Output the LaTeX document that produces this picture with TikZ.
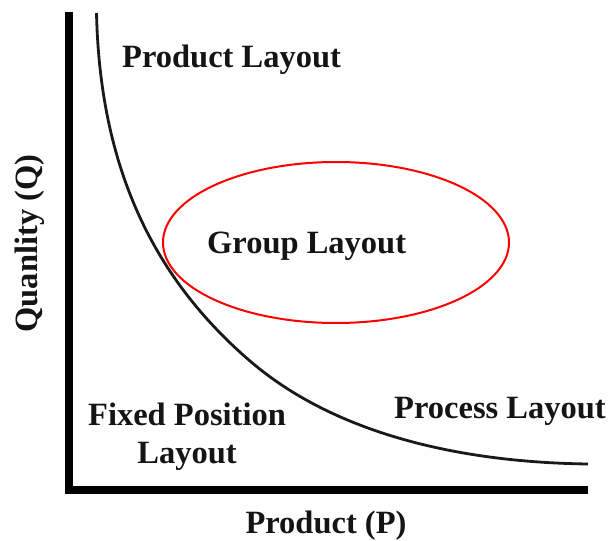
\documentclass[tikz,border=0pt]{standalone}
\usepackage{fontspec}
\setmainfont{Liberation Serif}
\begin{document}
\begin{tikzpicture}[x=1pt,y=1pt,
  lbl/.style={inner sep=0pt, font=\fontsize{32.5}{38}\selectfont\bfseries, text=black!92},
  axisline/.style={line width=8pt, line cap=butt, line join=miter},
  curveline/.style={line width=2.8pt, black!90},
  oval/.style={draw=red, line width=2pt}]
\useasboundingbox (0,0) rectangle (611,-541);
% axes
\coordinate (ytop) at (69,-12);
\coordinate (origin) at (69,-490);
\coordinate (xend) at (588,-490);
\draw[axisline] (ytop) -- (origin) -- (xend);
% curve
\coordinate (ctop) at (96.5,-13);
\coordinate (cmid) at (250,-361);
\coordinate (cend) at (588,-464);
\draw[curveline] (ctop) .. controls (100,-170) and (155,-279.3) .. (cmid)
  .. controls (325,-425.5) and (440,-462) .. (cend);
% ellipse
\draw[oval] (336,-242.5) ellipse [x radius=173, y radius=80.5];
% labels
\node[lbl, anchor=base west] (prodlay) at (122,-67) {Product Layout};
\node[lbl, anchor=base west] (grouplay) at (207,-253) {Group Layout};
\node[lbl, anchor=base, align=center] (fixedlay) at (187,-463) {Fixed Position\\Layout};
\node[lbl, anchor=base west] (proclay) at (394,-418) {Process Layout};
\node[lbl, anchor=base] (xlabel) at (326,-533) {Product (P)};
\node[lbl, anchor=base, rotate=90] (ylabel) at (37,-243.5) {Quanlity (Q)};
\end{tikzpicture}
\end{document}
